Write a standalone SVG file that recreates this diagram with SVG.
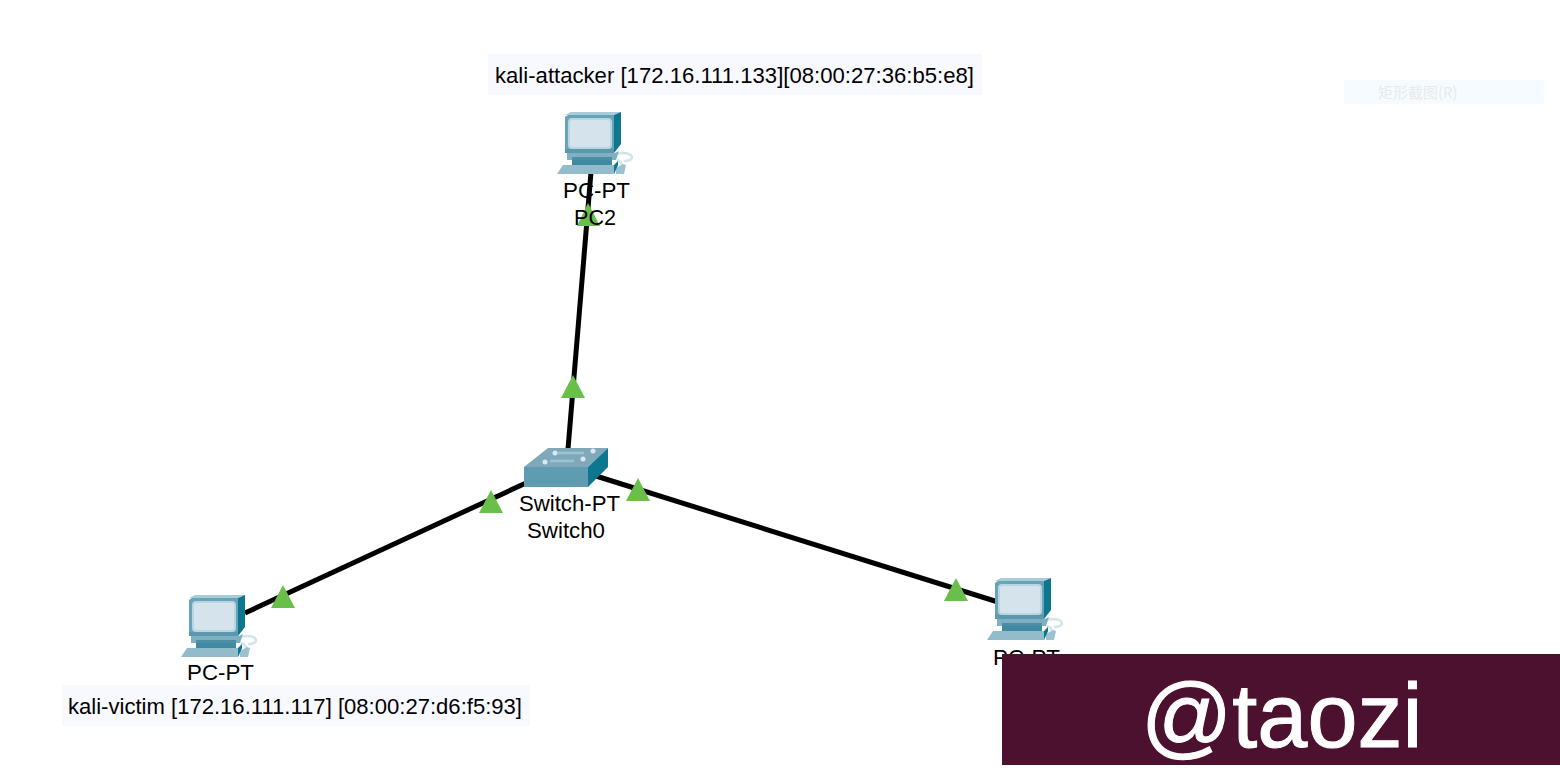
<svg xmlns="http://www.w3.org/2000/svg" width="1560" height="774" viewBox="0 0 1560 774">
<style>
text{font-family:"Liberation Sans",Arial,sans-serif;fill:#000;font-size:22px}
.note{fill:#f8f8ff}
.link{stroke:#000;stroke-width:5;fill:none}
.led{fill:#6abf4b}
</style>
<defs>
<g id="pc">
<path d="M58 42l8-1c3 0 8 1 9 4 0 3-4 4-8 4M60 48c3 1 5 3 5 5" fill="none" stroke="#d3e5eb" stroke-width="2.5"/>
<path d="M59 56l7-4 3 1-2 9h-8z" fill="#9cc2d0"/>
<path d="M8 3l6-3h50l-7 3z" fill="#a8cdd9"/>
<path d="M57 3l7-3v32l-7 9z" fill="#0f7690"/>
<path d="M8 5l3-2h46v38H8z" fill="#68a3b8"/>
<rect x="12" y="7" width="42" height="29" rx="3" fill="#d5e4ec" stroke="#b8d6e1" stroke-width="2"/>
<rect x="8" y="37" width="49" height="4" fill="#5b97ad"/>
<path d="M10 41h48l4-2-3 9H10z" fill="#7fb0c2"/>
<rect x="15" y="45" width="40" height="3" fill="#4d8ea6"/>
<path d="M15 48h40v5H15z" fill="#3f8aa3"/>
<path d="M6 53h55l-4 9H0z" fill="#92bccb"/>
<path d="M57 53l4-4v4l-4 9z" fill="#0f7690"/>
</g>
</defs>
<rect width="1560" height="774" fill="#fff"/>
<g id="connectors">
<line class="link" x1="591" y1="172" x2="568" y2="449"/>
<line class="link" x1="245" y1="613" x2="526" y2="483"/>
<line class="link" x1="596" y1="476" x2="998" y2="602"/>
</g>
<g id="link-lights">
<polygon class="led" points="588,203 577,226 600,226"/>
<polygon class="led" points="573,375 561,398 585,398"/>
<polygon class="led" points="283,585 271,608 295,608"/>
<polygon class="led" points="491,490 479,513 503,513"/>
<polygon class="led" points="638,478 626,501 650,501"/>
<polygon class="led" points="956,578 944,601 968,601"/>
</g>
<g id="pc2">
<use href="#pc" x="557" y="112"/>
<text x="563" y="198" textLength="67" lengthAdjust="spacingAndGlyphs">PC-PT</text>
<text x="574" y="225" textLength="42" lengthAdjust="spacingAndGlyphs">PC2</text>
</g>
<g id="switch0">
<polygon points="524,467 548,448 608,448 588,467" fill="#7fa9b8"/>
<g fill="#d8e8ee"><circle cx="555" cy="453" r="2.5"/><circle cx="593" cy="451" r="2.5"/><circle cx="545" cy="462" r="2.5"/><circle cx="583" cy="459" r="2.5"/></g>
<path d="M550 461h24M558 453h26" stroke="#9cc3d1" stroke-width="2.5"/>
<rect x="524" y="467" width="64" height="20" fill="#5f9cb2"/>
<polygon points="588,467 608,448 608,467 588,487" fill="#0f7690"/>
<text x="519" y="511" textLength="101" lengthAdjust="spacingAndGlyphs">Switch-PT</text>
<text x="527" y="538" textLength="78" lengthAdjust="spacingAndGlyphs">Switch0</text>
</g>
<g id="pc-left">
<use href="#pc" x="181" y="595"/>
<text x="187" y="680" textLength="67" lengthAdjust="spacingAndGlyphs">PC-PT</text>
</g>
<g id="pc-right">
<use href="#pc" x="987" y="578"/>
<text x="993" y="665" textLength="67" lengthAdjust="spacingAndGlyphs">PC-PT</text>
</g>
<g id="note-attacker">
<rect class="note" x="488" y="54" width="494" height="41"/>
<text x="495" y="83" textLength="479" lengthAdjust="spacingAndGlyphs">kali-attacker [172.16.111.133][08:00:27:36:b5:e8]</text>
</g>
<g id="note-victim">
<rect class="note" x="62" y="685" width="468" height="41"/>
<text x="68" y="714" textLength="454" lengthAdjust="spacingAndGlyphs">kali-victim [172.16.111.117] [08:00:27:d6:f5:93]</text>
</g>
<g id="menu-ghost">
<rect x="1344" y="80" width="200" height="24" fill="#f6fbff"/>
<text x="1378" y="98" style="font-family:'Noto Sans CJK SC','Liberation Sans',sans-serif;font-size:15px;fill:#e9eaea">矩形截图(R)</text>
</g>
<g id="watermark">
<rect x="1002" y="654" width="558" height="111" fill="#4c112f"/>
<text x="1141" y="747" style="font-size:90px;fill:#fff;stroke:#fff;stroke-width:1">@taozi</text>
</g>
</svg>
